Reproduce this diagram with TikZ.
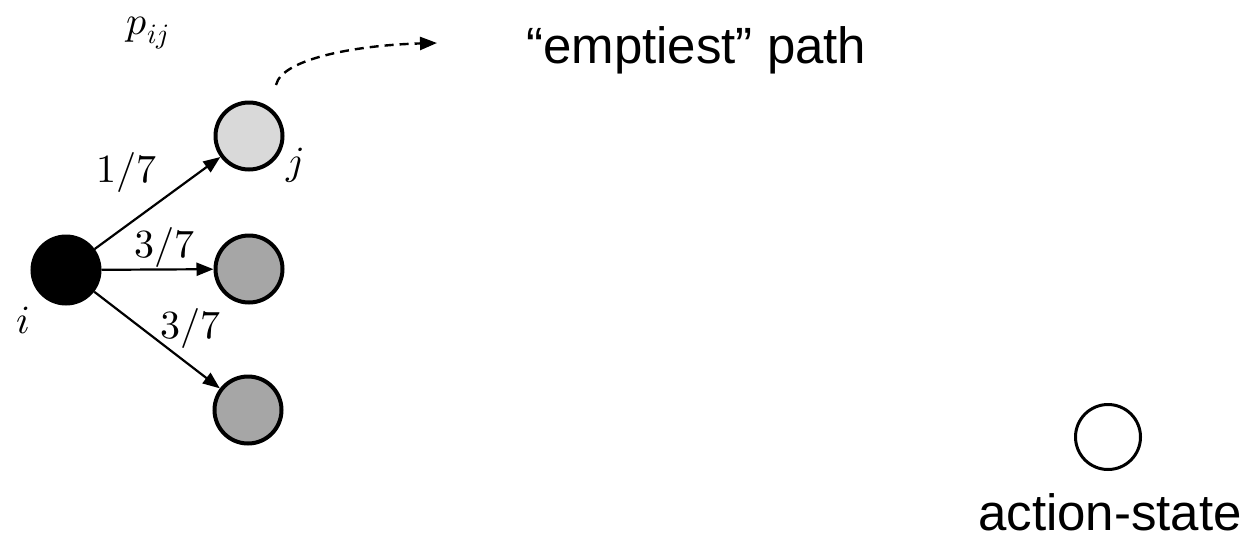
\documentclass[tikz,border=0pt]{standalone}
\usepackage{unicode-math}
\setmainfont{Liberation Sans}
\setmathfont{Latin Modern Math}
\usetikzlibrary{arrows.meta}
\begin{document}
\begin{tikzpicture}[x=1pt,y=-1pt,
  state/.style={circle,draw=black,line width=4pt,minimum size=67pt,inner sep=0pt},
  edge/.style={line width=2.2pt,-{Triangle[length=17pt,width=13pt]}},
  mathlbl/.style={font=\fontsize{40}{46}\selectfont,inner sep=0pt},
  big/.style={font=\fontsize{51}{60}\selectfont,inner sep=0pt}]
\useasboundingbox (0,0) rectangle (1253,544);
\node[state,fill=black] (i) at (66,270) {};
\node[state,fill={rgb,255:red,217;green,217;blue,217}] (j) at (249,136) {};
\node[state,fill={rgb,255:red,166;green,166;blue,166}] (m) at (249,269) {};
\node[state,fill={rgb,255:red,166;green,166;blue,166}] (b) at (248,410) {};
\node[circle,draw=black,line width=3pt,minimum size=65pt,inner sep=0pt] (a) at (1108,437) {};
\draw[edge] (i) -- (j);
\draw[edge] (i) -- (m);
\draw[edge] (i) -- (b);
\node[mathlbl] (l1) at (127,172) {$1/7$};
\node[mathlbl] (l2) at (165,247) {$3/7$};
\node[mathlbl] (l3) at (191,328) {$3/7$};
\node[mathlbl] (lj) at (295,165) {$j$};
\node[mathlbl] (li) at (23,320) {$i$};
\node[mathlbl] (p) at (148,33) {$p_{ij}$};
\node[big,anchor=base west] (e) at (526,63) {“emptiest” path};
\node[big,anchor=base] (as) at (1110,530) {action-state};
\coordinate (ds) at (276,85);
\coordinate (de) at (437,43);
\draw[line width=2.4pt,dash pattern=on 9pt off 6pt,-{Triangle[length=17pt,width=13pt]}] (ds) .. controls (282,58) and (360,45) .. (de);
\end{tikzpicture}
\end{document}
